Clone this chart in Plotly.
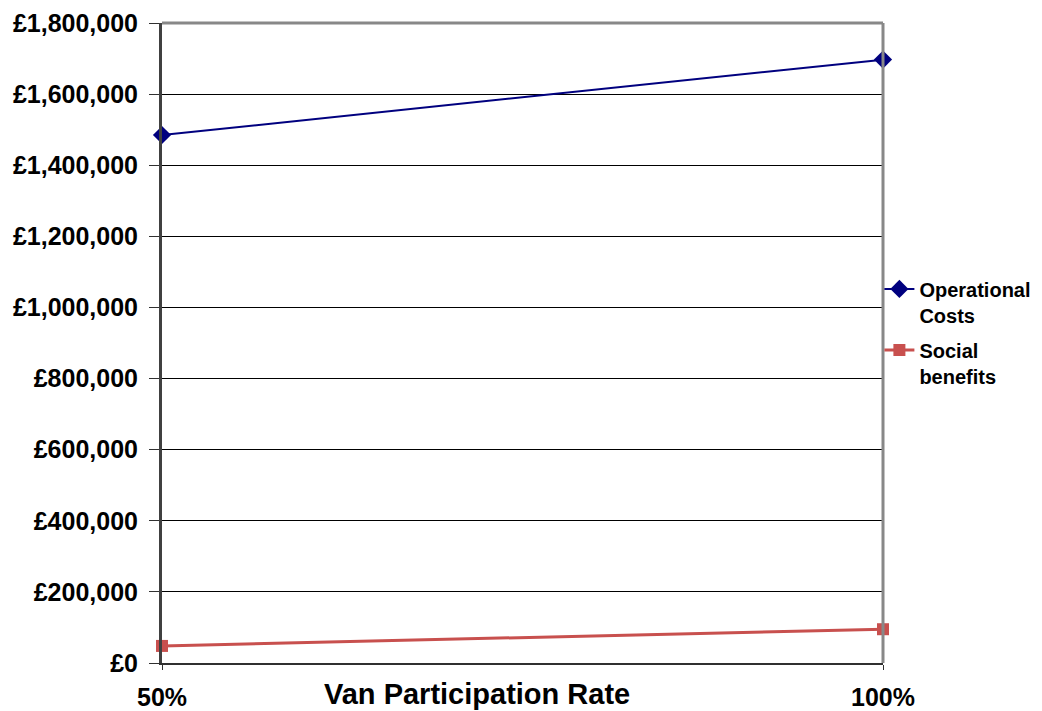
import plotly.graph_objects as go

categories = ["50%", "100%"]
x_pos = [0, 1]
operational_costs = [1485000, 1697000]
social_benefits = [48000, 95000]
y_ticks = [0, 200000, 400000, 600000, 800000, 1000000, 1200000, 1400000, 1600000, 1800000]
y_tick_text = ["£{:,}".format(v) for v in y_ticks]

FONT = "Liberation Sans, Arial, sans-serif"

fig = go.Figure()
fig.add_trace(go.Scatter(
    x=x_pos, y=operational_costs, name="Operational<br>Costs",
    mode="lines+markers", legendgroup="a",
    line=dict(color="#00007F", width=2),
    marker=dict(symbol="diamond", size=14, color="#00007F"),
    cliponaxis=False,
))
fig.add_trace(go.Scatter(
    x=x_pos, y=social_benefits, name="Social<br>benefits",
    mode="lines+markers", legendgroup="b",
    line=dict(color="#C8504E", width=3),
    marker=dict(symbol="square", size=12, color="#C8504E"),
    cliponaxis=False,
))

fig.update_layout(
    width=1042, height=711,
    margin=dict(l=162, r=159, t=23, b=48, autoexpand=False),
    paper_bgcolor="white", plot_bgcolor="white",
    font=dict(family=FONT, color="black", size=22, weight="bold"),
    showlegend=True,
    legend=dict(
        x=0.995, xanchor="left", y=0.615, yanchor="top",
        font=dict(family=FONT, size=20, color="black", weight="bold"),
        valign="top", bgcolor="rgba(0,0,0,0)",
        itemwidth=30, tracegroupgap=6,
    ),
    xaxis=dict(
        range=[0, 1], tickvals=x_pos, ticktext=categories,
        showgrid=False, zeroline=False,
        showline=True, linecolor="#303030", linewidth=2, mirror=False,
        ticks="outside", ticklen=5, tickcolor="#303030",
        ticklabelstandoff=6,
        tickfont=dict(family=FONT, size=25, color="black", weight="bold"),
        automargin=False,
    ),
    yaxis=dict(
        range=[0, 1800000], tickmode="array", tickvals=y_ticks, ticktext=y_tick_text,
        showgrid=True, gridcolor="black", gridwidth=1,
        zeroline=False,
        showline=True, linecolor="#404040", linewidth=3,
        ticks="outside", ticklen=10, tickcolor="#303030",
        ticklabelstandoff=6,
        tickfont=dict(family=FONT, size=25, color="black", weight="bold"),
        automargin=False,
    ),
    shapes=[
        dict(type="line", xref="paper", yref="paper", x0=0, x1=1, y0=1, y1=1,
             line=dict(color="#888888", width=3)),
        dict(type="line", xref="paper", yref="paper", x0=1, x1=1, y0=0, y1=1,
             line=dict(color="#888888", width=3)),
    ],
    annotations=[
        dict(text="Van Participation Rate", xref="paper", yref="paper",
             x=(477 - 162) / (883 - 162), y=0, yshift=-31, xanchor="center", yanchor="middle",
             showarrow=False, font=dict(family=FONT, size=29, color="black", weight="bold")),
    ],
)

fig.write_html("out.html", config={"displayModeBar": False},
               post_script="document.body.style.margin='0';document.body.style.overflow='hidden';")
